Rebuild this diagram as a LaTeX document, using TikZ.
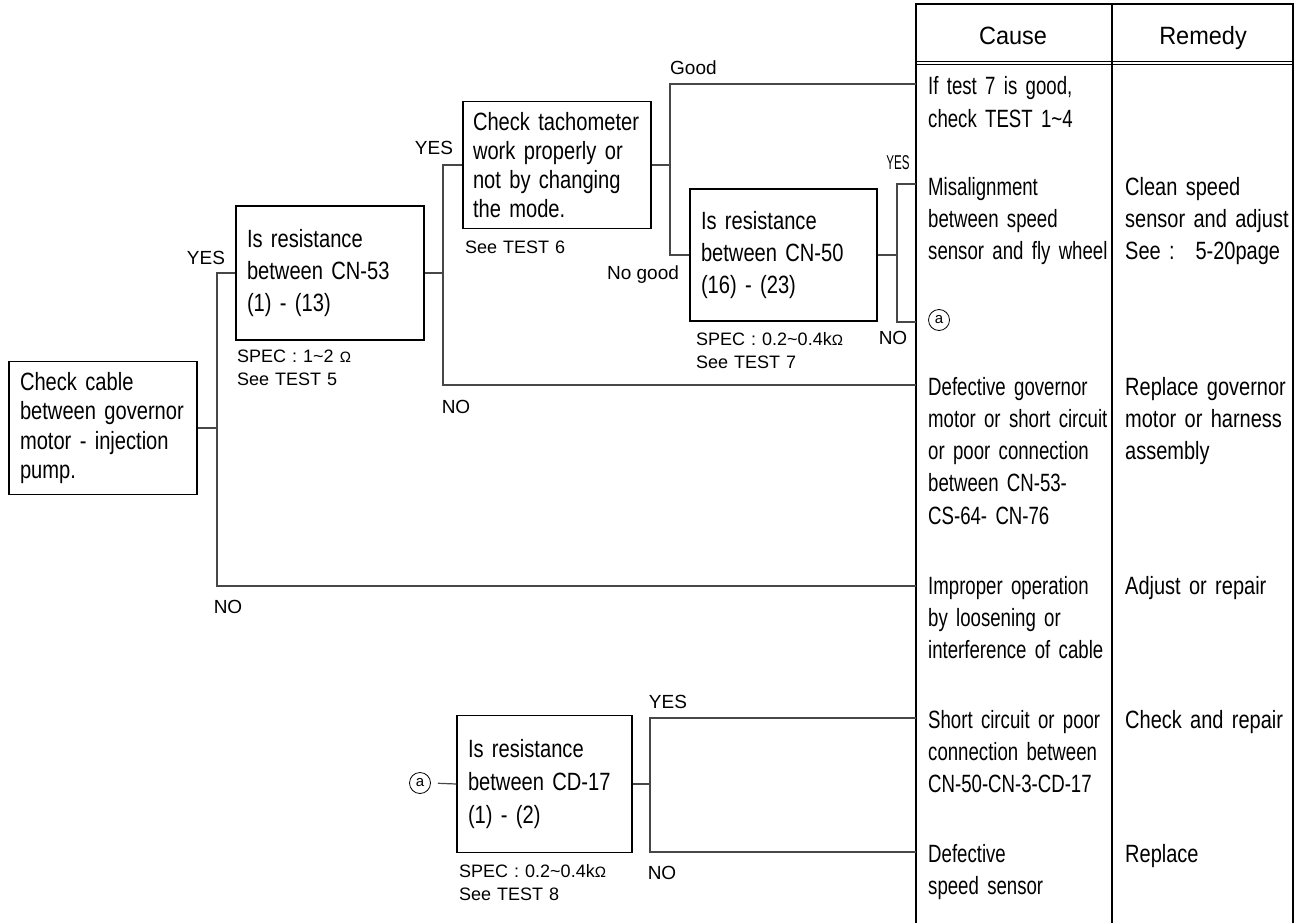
\documentclass[tikz,border=0pt]{standalone}
\usepackage{fontspec}
\setmainfont{Liberation Sans}
\newfontfamily\causefont{Liberation Sans}[FakeStretch=0.745]
\newfontfamily\remfont{Liberation Sans}[FakeStretch=0.80]
\newfontfamily\boxfont{Liberation Sans}[FakeStretch=0.805]
\newfontfamily\headfont{Liberation Sans}[FakeStretch=0.94]
\newfontfamily\narrowfont{Liberation Sans}[FakeStretch=0.58]
\newcommand{\ohm}{{\fontsize{15}{15}\selectfont Ω}}
\newcommand{\cellsp}{\spaceskip=4.8pt\relax}
\newcommand{\boxsp}{\spaceskip=5.2pt\relax}
\newcommand{\cellfontA}{\causefont\fontsize{25}{32.3}\selectfont\cellsp}
\newcommand{\cellfontB}{\remfont\fontsize{25}{32.3}\selectfont\cellsp}
\newcommand{\boxfontA}[1]{\boxfont\fontsize{25}{#1}\selectfont\boxsp}
\hyphenpenalty=10000
\begin{document}
\begin{tikzpicture}[x=1pt,y=-1pt,
  box/.style={draw=black, line width=1.3pt, align=left, inner xsep=11pt, inner ysep=0pt},
  conn/.style={draw=black!72, line width=1.2pt},
  lbl/.style={font=\fontsize{19}{22}\selectfont, inner sep=0pt},
  spec/.style={font=\fontsize{18}{23}\selectfont, inner sep=0pt, anchor=base west, align=left, text width=180pt},
  cause/.style={font=\cellfontA, inner sep=0pt, anchor=base west, align=left, text width=188pt},
  remedy/.style={font=\cellfontB, inner sep=0pt, anchor=base west, align=left, text width=172pt},
  head/.style={font=\headfont\fontsize{25}{28}\selectfont, inner sep=0pt, anchor=base},
  tedge/.style={draw=black, line width=2pt},
  tdiv/.style={draw=black, line width=1.2pt},
  circ/.style={draw=black, circle, line width=0.8pt, inner sep=0pt, minimum size=21pt, font=\fontsize{15}{15}\selectfont},
]
\useasboundingbox (0,0) rectangle (1303,923);

% ---- table ----
\draw[tedge] (916,4) -- (916,923);
\draw[tedge] (1293,4) -- (1293,923);
\draw[tedge] (915,4) -- (1294,4);
\draw[tdiv] (1112,4) -- (1112,923);
\draw[draw=black, line width=0.9pt] (916,61.5) -- (1293,61.5);
\draw[draw=black, line width=0.9pt] (916,64.5) -- (1293,64.5);
\node[head] (hC) at (1013,45) {Cause};
\node[head] (hR) at (1203,45) {Remedy};

% ---- table edge coordinates ----
\coordinate (tGood) at (916,84);
\coordinate (tMis) at (916,184);
\coordinate (tA) at (916,322);
\coordinate (tDef) at (916,385);
\coordinate (tImp) at (916,586);
\coordinate (tShort) at (916,718);
\coordinate (tSpeed) at (916,852);
\coordinate (v1) at (217,0);
\coordinate (v2) at (443,0);
\coordinate (v3) at (670,0);
\coordinate (v4) at (897,0);
\coordinate (v5) at (650,0);

% ---- boxes ----
\node[box, font=\boxfontA{29.5}, text width=166pt, minimum height=133pt] (b1) at (103,428) {Check cable\\between governor\\motor - injection\\pump.};
\node[box, font=\boxfontA{32}, text width=166pt, minimum height=134pt] (b2) at (330,273) {Is resistance\\between CN-53\\(1) - (13)};
\node[box, font=\boxfontA{29}, inner xsep=10pt, text width=168pt, minimum height=127pt] (b3) at (557,165) {Check tachometer\\work properly or\\not by changing\\the mode.};
\node[box, font=\boxfontA{32}, text width=165pt, minimum height=132pt] (b4) at (783.5,255) {Is resistance\\between CN-50\\(16) - (23)};
\node[box, font=\boxfontA{33}, text width=153pt, minimum height=137pt] (b5) at (544.5,784) {Is resistance\\between CD-17\\(1) - (2)};

% ---- spec notes ----
\node[spec] (s2) at (237,362) {SPEC : 1\textasciitilde2 \ohm\\See TEST 5};
\node[spec] (s3) at (465,253) {See TEST 6};
\node[spec] (s4) at (696,345) {SPEC : 0.2\textasciitilde0.4k\ohm\\See TEST 7};
\node[spec] (s5) at (459,877) {SPEC : 0.2\textasciitilde0.4k\ohm\\See TEST 8};

% ---- circled a ----
\node[circ] (aR) at (939,320) {a};
\node[circ] (aL) at (420,783) {a};

% ---- connectors ----
\draw[conn] (b1.east) -- (b1.east -| v1);
\draw[conn] (b2.west) -- (b2.west -| v1) -- (v1 |- tImp) -- (tImp);
\draw[conn] (b2.east) -- (b2.east -| v2);
\draw[conn] (b3.west) -- (b3.west -| v2) -- (v2 |- tDef) -- (tDef);
\draw[conn] (b3.east) -- (b3.east -| v3);
\draw[conn] (tGood) -- (v3 |- tGood) -- (v3 |- b4.west) -- (b4.west);
\draw[conn] (b4.east) -- (b4.east -| v4);
\draw[conn] (tMis) -- (v4 |- tMis) -- (v4 |- tA) -- (tA);
\draw[conn, shorten <=7pt] (aL.east) -- (b5.west);
\draw[conn] (b5.east) -- (b5.east -| v5);
\draw[conn] (tShort) -- (v5 |- tShort) -- (v5 |- tSpeed) -- (tSpeed);

% ---- branch labels ----
\node[lbl] (y1) at (206,258) {YES};
\node[lbl] (n1) at (228,607) {NO};
\node[lbl] (y2) at (434,148) {YES};
\node[lbl] (n2) at (456,407) {NO};
\node[lbl, anchor=west] (g) at (670,68) {Good};
\node[lbl] (ng) at (643,275) {No good};
\node[lbl, font=\narrowfont\fontsize{20}{22}\selectfont] (y3) at (898,163) {YES};
\node[lbl] (n3) at (893,338) {NO};
\node[lbl] (y4) at (668,702) {YES};
\node[lbl] (n4) at (662,873) {NO};

% ---- cause column ----
\node[cause] (c1) at (928,95) {If test 7 is good,\\check TEST 1\textasciitilde4};
\node[cause] (c2) at (928,195) {Misalignment\\between speed\\sensor and fly wheel};
\node[cause] (c3) at (928,395) {Defective governor\\motor or short circuit\\or poor connection\\between CN-53-\\CS-64- CN-76};
\node[cause] (c4) at (928,594) {Improper operation\\by loosening or\\interference of cable};
\node[cause] (c5) at (928,728) {Short circuit or poor\\connection between\\CN-50-CN-3-CD-17};
\node[cause] (c6) at (928,862) {Defective\\speed sensor};

% ---- remedy column ----
\node[remedy] (r2) at (1125,195) {Clean speed\\sensor and adjust\\See : \ 5-20page};
\node[remedy] (r3) at (1125,395) {Replace governor\\motor or harness\\assembly};
\node[remedy] (r4) at (1125,594) {Adjust or repair};
\node[remedy] (r5) at (1125,728) {Check and repair};
\node[remedy] (r6) at (1125,862) {Replace};
\end{tikzpicture}
\end{document}
